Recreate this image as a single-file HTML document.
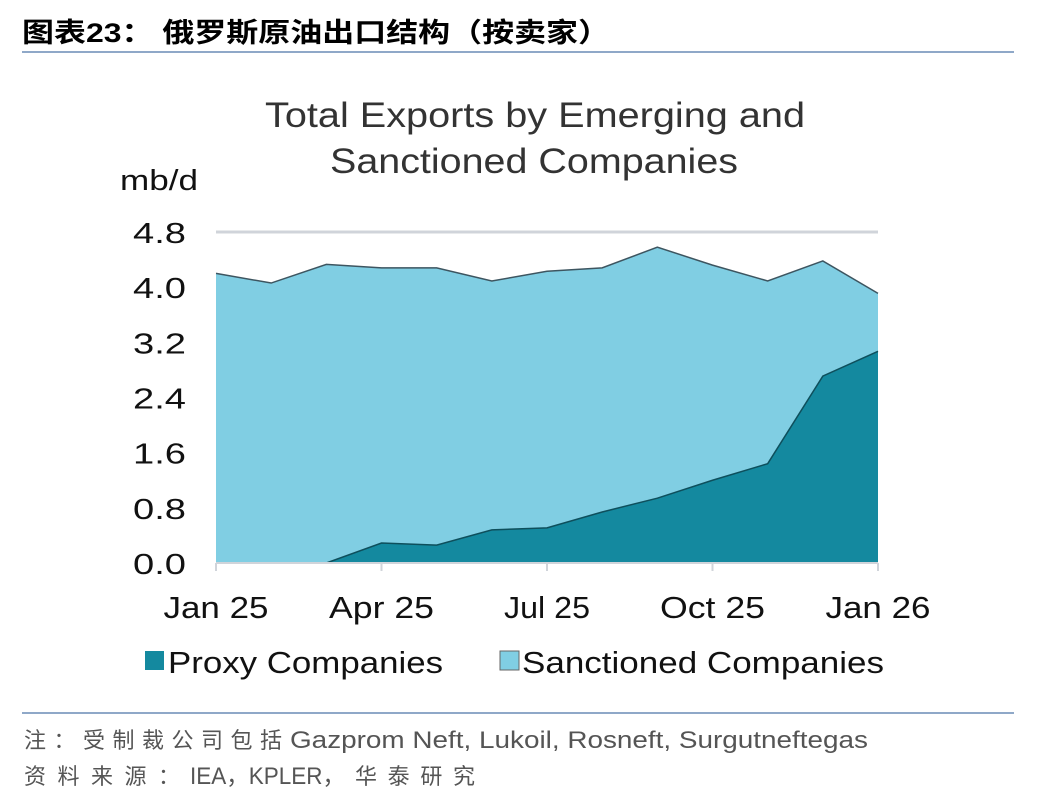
<!DOCTYPE html>
<html><head><meta charset="utf-8"><style>
body{margin:0;width:1048px;height:804px;background:#fff;overflow:hidden;font-family:"Liberation Sans","Noto Sans CJK SC",sans-serif;position:relative}
.abs{position:absolute;white-space:nowrap}
</style></head><body>
<svg class="abs" style="left:0;top:0" width="1048" height="804" id="chart">
<text x="22" y="42" font-size="27" font-weight="bold" fill="#000" textLength="588" lengthAdjust="spacingAndGlyphs">图表23： 俄罗斯原油出口结构（按卖家）</text>
<rect x="22" y="51" width="992" height="2" fill="#8fa8c8"/>
<text x="265" y="127" font-size="35" fill="#333" textLength="540" lengthAdjust="spacingAndGlyphs">Total Exports by Emerging and</text>
<text x="330" y="173" font-size="35" fill="#333" textLength="408" lengthAdjust="spacingAndGlyphs">Sanctioned Companies</text>
<text x="120" y="190" font-size="29" fill="#111" textLength="78" lengthAdjust="spacingAndGlyphs">mb/d</text>
<rect x="22" y="712" width="992" height="2" fill="#8fa8c8"/>
<text y="748" font-size="22" fill="#555"><tspan x="24" textLength="258" lengthAdjust="spacing">注：受制裁公司包括</tspan><tspan x="290" font-size="24" textLength="578" lengthAdjust="spacingAndGlyphs">Gazprom Neft, Lukoil, Rosneft, Surgutneftegas</tspan></text>
<text y="784" font-size="22" fill="#555"><tspan x="24" textLength="156" lengthAdjust="spacing">资料来源：</tspan><tspan x="190" font-size="24" textLength="155" lengthAdjust="spacingAndGlyphs">IEA，KPLER，</tspan><tspan x="355" textLength="120" lengthAdjust="spacing">华泰研究</tspan></text>
</svg>
<script>
const months=["Jan 25","Feb 25","Mar 25","Apr 25","May 25","Jun 25","Jul 25","Aug 25","Sep 25","Oct 25","Nov 25","Dec 25","Jan 26"];
const totalExports=[4.20,4.06,4.33,4.28,4.28,4.09,4.23,4.28,4.58,4.32,4.09,4.38,3.91];
const proxyExports=[0,0,0,0.29,0.26,0.48,0.51,0.74,0.94,1.20,1.44,2.71,3.07];
const yTicks=[0,0.8,1.6,2.4,3.2,4.0,4.8];
const xTickLabels=["Jan 25","Apr 25","Jul 25","Oct 25","Jan 26"];
const xTickIdx=[0,3,6,9,12];
const svg=document.getElementById('chart');const NS="http://www.w3.org/2000/svg";
const x0=216,x1=878,y0=563,y1=232,ymax=4.8;
const X=i=>x0+(x1-x0)*i/(months.length-1);
const Y=v=>y0-(y0-y1)*v/ymax;
function mk(t,a){const e=document.createElementNS(NS,t);for(const k in a)e.setAttribute(k,a[k]);svg.appendChild(e);return e;}
const g=mk('line',{x1:x0,x2:x1,y1:Y(4.8),y2:Y(4.8),stroke:'#d0d4da','stroke-width':3});


let d=`M${X(0)},${Y(0)}`;totalExports.forEach((v,i)=>d+=`L${X(i)},${Y(v)}`);d+=`L${X(months.length-1)},${Y(0)}Z`;
const a1=mk('path',{d:d,fill:'#80cee3',stroke:'none'});


let l1='';totalExports.forEach((v,i)=>l1+=(i?'L':'M')+X(i)+','+Y(v));
const tl=mk('path',{d:l1,fill:'none',stroke:'#3d5560','stroke-width':1.5});


let d2=`M${X(0)},${Y(0)}`;proxyExports.forEach((v,i)=>d2+=`L${X(i)},${Y(v)}`);d2+=`L${X(months.length-1)},${Y(0)}Z`;
const a2=mk('path',{d:d2,fill:'#14899f',stroke:'none'});


let l2='';proxyExports.forEach((v,i)=>l2+=(i?'L':'M')+X(i)+','+Y(v));
const pl=mk('path',{d:l2,fill:'none',stroke:'#0e4f5c','stroke-width':1.5});


const ax=mk('line',{x1:x0,x2:x1,y1:y0,y2:y0,stroke:'#d0d4da','stroke-width':2});


yTicks.forEach(v=>{const t=mk('text',{x:186,y:Y(v)+11,'text-anchor':'end','font-size':29,fill:'#111',textLength:53,lengthAdjust:'spacingAndGlyphs'});t.textContent=v.toFixed(1);

});
xTickIdx.forEach((idx,k)=>{const tk=mk('line',{x1:X(idx),x2:X(idx),y1:y0,y2:y0+8,stroke:'#d0d4da','stroke-width':2});


const w=xTickLabels[k].startsWith('Jul')?86:105;
const t=mk('text',{x:X(idx),y:618,'text-anchor':'middle','font-size':31,fill:'#111',textLength:w,lengthAdjust:'spacingAndGlyphs'});t.textContent=xTickLabels[k];

});
const s1=mk('rect',{x:145,y:651,width:19,height:19,fill:'#14899f'});


const t1=mk('text',{x:168,y:673,'font-size':31,fill:'#111',textLength:275,lengthAdjust:'spacingAndGlyphs'});t1.textContent='Proxy Companies';


const s2=mk('rect',{x:500,y:651,width:19,height:19,fill:'#80cee3',stroke:'#666','stroke-width':1});


const t2=mk('text',{x:522,y:673,'font-size':31,fill:'#111',textLength:362,lengthAdjust:'spacingAndGlyphs'});t2.textContent='Sanctioned Companies';


</script>
</body></html>
